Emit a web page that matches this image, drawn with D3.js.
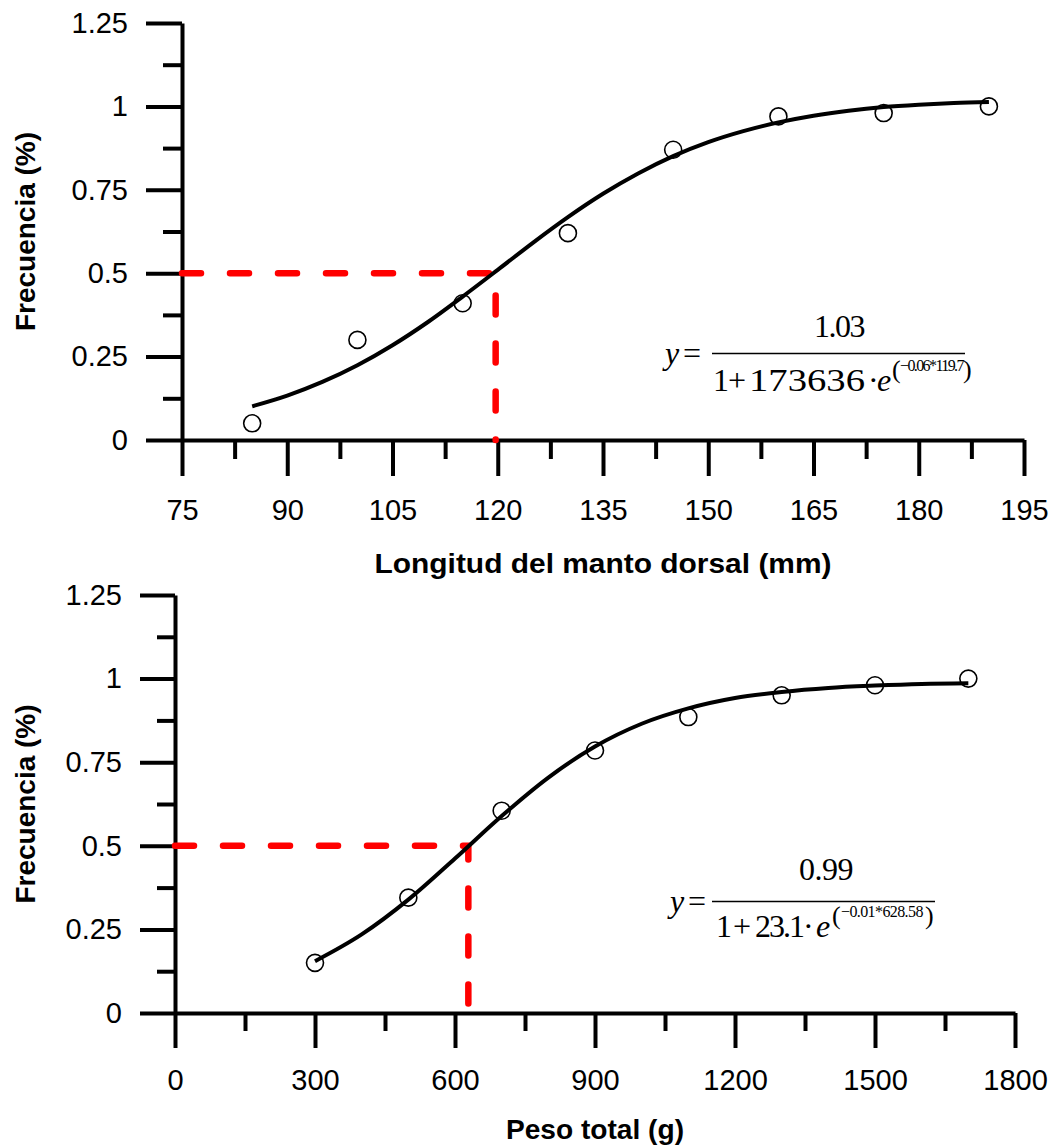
<!DOCTYPE html>
<html>
<head>
<meta charset="utf-8">
<script src="https://cdn.jsdelivr.net/npm/d3@7"></script>
<style>
  html, body { margin: 0; padding: 0; background: #fff; }
  svg { display: block; }
  .tick text { font-family: "Liberation Sans", Arial, sans-serif; font-size: 29px; fill: #000; }
  .title { font-family: "Liberation Sans", Arial, sans-serif; font-size: 28px; font-weight: bold; fill: #000; }
  .eq { font-family: "Liberation Serif", "Times New Roman", serif; fill: #000; font-size: 32px; }
</style>
</head>
<body>
<svg id="chart" width="1055" height="1145"></svg>
<script>
// Maturity ogive by dorsal mantle length (mm)
const lengthX = [85, 100, 115, 130, 145, 160, 175, 190];
const lengthFreq = [0.05, 0.30, 0.41, 0.62, 0.87, 0.97, 0.98, 1.00];
const lengthFitX = [85, 90, 95, 100, 105, 110, 115, 120, 125, 130, 135, 140, 145, 150, 155, 160, 165, 170, 175, 180, 185, 190];
const lengthFitY = [0.101, 0.133, 0.174, 0.224, 0.284, 0.353, 0.430, 0.510, 0.591, 0.668, 0.738, 0.799, 0.851, 0.893, 0.926, 0.952, 0.972, 0.987, 0.998, 1.005, 1.010, 1.013];
const lengthTicks = [75, 90, 105, 120, 135, 150, 165, 180, 195];
const lengthMinor = [82.5, 97.5, 112.5, 127.5, 142.5, 157.5, 172.5, 187.5];

// Maturity ogive by total weight (g)
const weightX = [300, 500, 700, 900, 1100, 1300, 1500, 1700];
const weightFreq = [0.15, 0.345, 0.605, 0.785, 0.885, 0.95, 0.98, 1.00];
const weightFitX = [300, 400, 500, 600, 700, 800, 900, 1000, 1100, 1200, 1300, 1400, 1500, 1600, 1700];
const weightFitY = [0.155, 0.235, 0.339, 0.462, 0.589, 0.704, 0.797, 0.865, 0.911, 0.942, 0.960, 0.972, 0.979, 0.984, 0.986];
const weightTicks = [0, 300, 600, 900, 1200, 1500, 1800];
const weightMinor = [150, 450, 750, 1050, 1350, 1650];

// Shared frequency axis
const freqTicks = [0, 0.25, 0.5, 0.75, 1, 1.25];
const freqLabels = ["0", "0.25", "0.5", "0.75", "1", "1.25"];
const freqMinor = [0.125, 0.375, 0.625, 0.875, 1.125];

// Size at 50% maturity for each panel
const l50 = [119.7, 628.58];

const svg = d3.select("#chart");

function panel(cfg) {
  const g = svg.append("g");
  const x = d3.scaleLinear().domain(cfg.xDomain).range(cfg.xRange);
  const y = d3.scaleLinear().domain([0, 1.25]).range(cfg.yRange);

  const styleAxis = sel => {
    sel.selectAll("path, line").attr("stroke", "#000").attr("stroke-width", 4);
    sel.selectAll(".tick text").attr("fill", "#000");
    sel.attr("font-family", null).attr("font-size", null);
  };

  // minor ticks
  g.append("g").attr("transform", `translate(${cfg.xRange[0]},0)`)
    .call(d3.axisLeft(y).tickValues(freqMinor).tickSize(cfg.minorLen).tickFormat(""))
    .call(s => s.select(".domain").remove()).call(styleAxis);
  g.append("g").attr("transform", `translate(0,${cfg.yRange[0]})`)
    .call(d3.axisBottom(x).tickValues(cfg.minor).tickSize(cfg.minorLen).tickFormat(""))
    .call(s => s.select(".domain").remove()).call(styleAxis);

  // major axes
  g.append("g").attr("transform", `translate(${cfg.xRange[0]},0)`)
    .call(d3.axisLeft(y).tickValues(freqTicks).tickSize(cfg.majorLen).tickSizeOuter(0)
      .tickPadding(cfg.yPad).tickFormat((d, i) => freqLabels[i]))
    .call(styleAxis);
  g.append("g").attr("transform", `translate(0,${cfg.yRange[0]})`)
    .call(d3.axisBottom(x).tickValues(cfg.ticks).tickSize(cfg.majorLen).tickSizeOuter(0)
      .tickPadding(cfg.xPad).tickFormat(d3.format("d")))
    .call(styleAxis);

  // 50% reference lines
  const xm = x(cfg.l50), ym = y(0.5);
  g.append("path")
    .attr("d", `M${x(cfg.xDomain[0])},${ym}H${xm}V${y(0)}`)
    .attr("fill", "none").attr("stroke", "#ff0000").attr("stroke-width", 6.5)
    .attr("stroke-linecap", "round").attr("stroke-dasharray", "19,29");

  // observed points
  g.append("g").selectAll("circle").data(cfg.px.map((d, i) => [d, cfg.py[i]])).join("circle")
    .attr("cx", d => x(d[0])).attr("cy", d => y(d[1])).attr("r", 8.5)
    .attr("fill", "none").attr("stroke", "#000").attr("stroke-width", 1.6);

  // fitted logistic curve
  g.append("path")
    .datum(cfg.fx.map((d, i) => [d, cfg.fy[i]]))
    .attr("d", d3.line().x(d => x(d[0])).y(d => y(d[1])).curve(d3.curveMonotoneX))
    .attr("fill", "none").attr("stroke", "#000").attr("stroke-width", 4).attr("stroke-linecap", "butt");

  // titles
  const cy = (cfg.yRange[0] + cfg.yRange[1]) / 2;
  g.append("text").attr("class", "title")
    .attr("transform", `translate(35,${cy}) rotate(-90)`).attr("text-anchor", "middle")
    .text("Frecuencia (%)");
  g.append("text").attr("class", "title")
    .attr("x", (cfg.xRange[0] + cfg.xRange[1]) / 2).attr("y", cfg.titleY)
    .attr("text-anchor", "middle")
    .attr("textLength", cfg.titleLen).attr("lengthAdjust", "spacingAndGlyphs")
    .text(cfg.title);
  return g;
}

panel({
  xDomain: [75, 195], xRange: [182, 1024], yRange: [440, 23],
  ticks: lengthTicks, minor: lengthMinor, majorLen: 36, minorLen: 19, xPad: 23, yPad: 18,
  px: lengthX, py: lengthFreq, fx: lengthFitX, fy: lengthFitY, l50: l50[0],
  title: "Longitud del manto dorsal (mm)", titleY: 573, titleLen: 457
});

panel({
  xDomain: [0, 1800], xRange: [175, 1015], yRange: [1013, 595],
  ticks: weightTicks, minor: weightMinor, majorLen: 35, minorLen: 18, xPad: 21, yPad: 18,
  px: weightX, py: weightFreq, fx: weightFitX, fy: weightFitY, l50: l50[1],
  title: "Peso total (g)", titleY: 1139, titleLen: 178
});

// Logistic model equations: numerator, fraction bar, "y =" and denominator with exponent
function equation(e) {
  svg.append("text").attr("class", "eq")
    .attr("x", e.numX).attr("y", e.numY).attr("letter-spacing", e.numSpacing)
    .text(e.num);
  svg.append("line").attr("x1", e.barX1).attr("x2", e.barX2).attr("y1", e.barY).attr("y2", e.barY)
    .attr("stroke", "#000").attr("stroke-width", 1.6);

  const lhs = svg.append("text").attr("class", "eq").attr("y", e.barY + 10);
  lhs.append("tspan").attr("x", e.yX).attr("font-style", "italic").text("y");
  lhs.append("tspan").attr("x", e.yX + 18).text("=");

  const b = e.denY;
  const lead = svg.append("text").attr("class", "eq").attr("y", b);
  lead.append("tspan").attr("x", e.d[0]).text("1");
  lead.append("tspan").attr("x", e.d[1]).text("+");

  const coef = svg.append("text").attr("class", "eq").attr("x", e.d[2]).attr("y", b).text(e.coef);
  if (e.coefLen) coef.attr("textLength", e.coefLen).attr("lengthAdjust", "spacingAndGlyphs");
  else coef.attr("letter-spacing", e.coefSpacing);

  const tail = svg.append("text").attr("class", "eq").attr("y", b);
  tail.append("tspan").attr("x", e.d[3]).text("\u00b7");
  tail.append("tspan").attr("x", e.d[4]).attr("font-style", "italic").text("e");
  tail.append("tspan").attr("x", e.d[5]).attr("y", b - 13).attr("font-style", "normal")
    .attr("font-size", 26).text("(");
  tail.append("tspan").attr("x", e.d[6]).attr("y", b - 20).attr("font-size", 16)
    .attr("letter-spacing", e.expSpacing).text(e.exp);
  tail.append("tspan").attr("x", e.d[7]).attr("y", b - 13).attr("font-size", 26)
    .attr("letter-spacing", 0).text(")");
}

equation({
  num: "1.03", numX: 814, numY: 337, numSpacing: -1.5,
  barX1: 712, barX2: 965, barY: 353.5, yX: 665,
  denY: 391, d: [713, 728, 749, 868, 877, 892, 900, 963],
  coef: "173636", coefLen: 116, exp: "\u22120.06*119.7", expSpacing: -1.6
});

equation({
  num: "0.99", numX: 799, numY: 880, numSpacing: -0.5,
  barX1: 712, barX2: 935, barY: 901.5, yX: 670,
  denY: 937, d: [716, 733, 755, 803, 816, 832, 841, 925],
  coef: "23.1", coefSpacing: -2, exp: "\u22120.01*628.58", expSpacing: -0.6
});
</script>
</body>
</html>
